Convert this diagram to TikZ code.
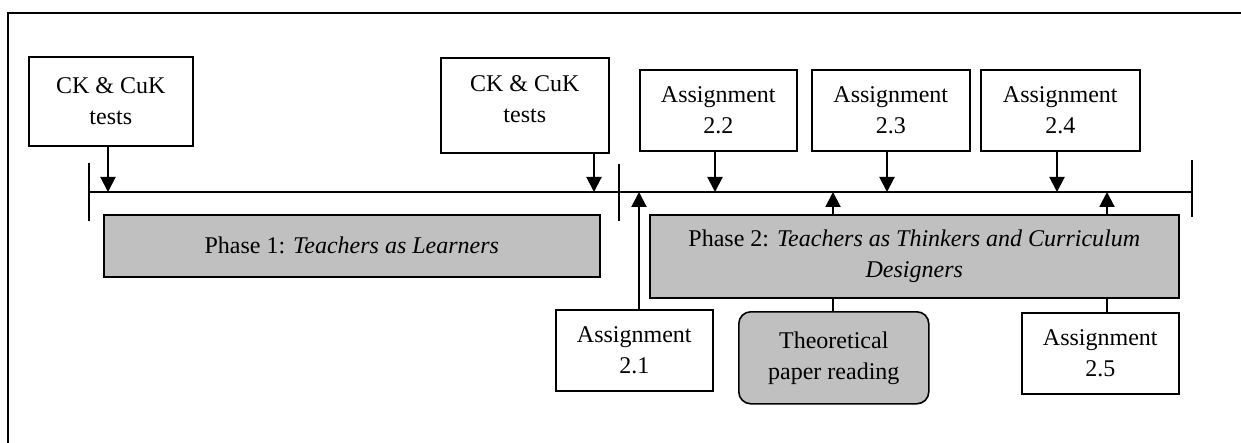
\documentclass[tikz,border=0pt]{standalone}
\usepackage{fontspec}
\setmainfont{Liberation Serif}
\usetikzlibrary{arrows.meta}
\definecolor{phasegray}{HTML}{C0C0C0}
\begin{document}
\begin{tikzpicture}[x=0.5pt,y=-0.5pt,
  box/.style={draw,line width=0.8pt,inner sep=0pt,anchor=north west,
    align=center,font=\fontsize{12}{15.5}\selectfont},
  phasebox/.style={box,fill=phasegray},
  lbl/.style={align=center,inner sep=0pt,font=\fontsize{12}{15.5}\selectfont},
  arr/.style={line width=1pt,-{Triangle[length=7.5pt,width=7.5pt]}},
  link/.style={line width=1pt},
  timeline/.style={line width=0.7pt},
  tickmark/.style={line width=0.7pt}]
\useasboundingbox (0,0) rectangle (1241,443);

% outer frame (left and top edges)
\draw[line width=1pt] (8,443) -- (8,13) -- (1241,13);

% time line with its three tick marks
\coordinate (tl0) at (89,192);
\coordinate (tl1) at (619,192);
\coordinate (tl2) at (1192,192);
\draw[timeline] (tl0) -- (tl2);
\draw[tickmark] (tl0) ++(0,-29) -- ++(0,58);
\draw[tickmark] (tl1) ++(0,-28) -- ++(0,57);
\draw[tickmark] (tl2) ++(0,-32) -- ++(0,57);

% events above the line
\node[box,minimum width=82pt,minimum height=44.5pt] (ck1) at (28,56) {CK \& CuK\\tests};
\node[box,minimum width=84pt,minimum height=47.5pt] (ck2) at (440,57) {};
\node[lbl] (ck2t) at ([yshift=3.25pt]ck2.center) {CK \& CuK\\tests};
\node[box,minimum width=78.5pt,minimum height=40.5pt] (a22) at (639,69) {Assignment\\2.2};
\node[box,minimum width=79pt,minimum height=40.5pt] (a23) at (811,69) {Assignment\\2.3};
\node[box,minimum width=79.5pt,minimum height=40.5pt] (a24) at (980,69) {Assignment\\2.4};

% phases
\node[phasebox,minimum width=248pt,minimum height=31pt] (ph1) at (103,214)
  {Phase 1: \textit{Teachers as Learners}};
\node[phasebox,minimum width=264.5pt,minimum height=41.5pt] (ph2) at (649,214)
  {Phase 2: \textit{Teachers as Thinkers and Curriculum}\\\textit{Designers}};

% events below the line
\node[box,minimum width=78.5pt,minimum height=40.5pt] (a21) at (555,309) {Assignment\\2.1};
\node[phasebox,rounded corners=6pt,minimum width=95pt,minimum height=46pt] (theory) at (738,311)
  {Theoretical\\paper reading};
\node[box,minimum width=78.5pt,minimum height=40.5pt] (a25) at (1021,312) {Assignment\\2.5};

% arrows pointing down onto the line
\coordinate (d1) at (108,192);
\coordinate (d2) at (594,192);
\coordinate (d3) at (715,192);
\coordinate (d4) at (887,192);
\coordinate (d5) at (1057,192);
\draw[arr] (d1 |- ck1.south) -- (d1);
\draw[arr] (d2 |- ck2.south) -- (d2);
\draw[arr] (d3 |- a22.south) -- (d3);
\draw[arr] (d4 |- a23.south) -- (d4);
\draw[arr] (d5 |- a24.south) -- (d5);

% arrows pointing up onto the line
\coordinate (u1) at (639,192);
\coordinate (u2) at (833,192);
\coordinate (u3) at (1107,192);
\draw[arr] (u1 |- a21.north) -- (u1);
\draw[link] (u2 |- theory.north) -- (u2 |- ph2.south);
\draw[arr] (u2 |- ph2.north) -- (u2);
\draw[link] (u3 |- a25.north) -- (u3 |- ph2.south);
\draw[arr] (u3 |- ph2.north) -- (u3);
\end{tikzpicture}
\end{document}
